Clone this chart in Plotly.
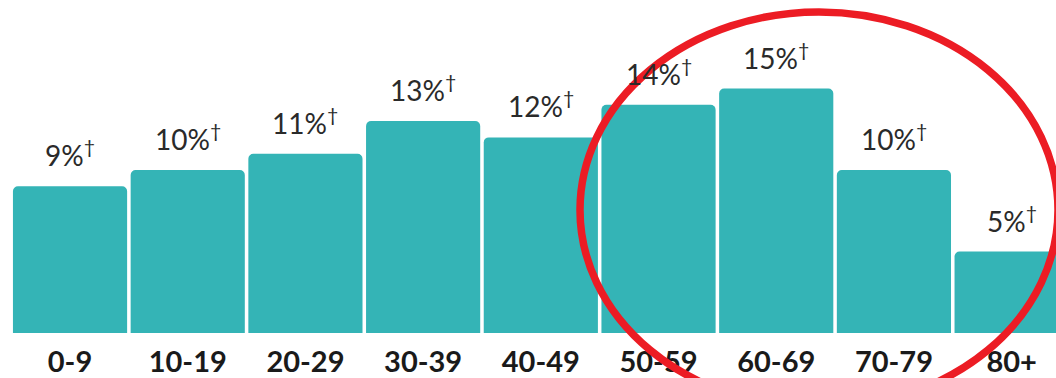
import plotly.graph_objects as go

# Age bands and their share of cases (%)
age_groups = ["0-9", "10-19", "20-29", "30-39", "40-49", "50-59", "60-69", "70-79", "80+"]
shares = [9, 10, 11, 13, 12, 14, 15, 10, 5]
share_labels = [f"{v}%<sup>†</sup>" for v in shares]

BAR_COLOR = "#34B4B6"
TEXT_COLOR = "#2a2a2a"

fig = go.Figure(
    go.Bar(
        x=age_groups,
        y=shares,
        marker=dict(color=BAR_COLOR, cornerradius=5, line=dict(width=0)),
        hoverinfo="skip",
    )
)

# Value labels sitting above each bar
for cat, val, lab in zip(age_groups, shares, share_labels):
    fig.add_annotation(
        x=cat, y=val, text=lab, showarrow=False,
        xref="x", yref="y", yanchor="bottom", yshift=12,
        font=dict(family="Lato", size=28, color=TEXT_COLOR),
    )

# Red highlight ring around the older age bands
fig.add_shape(
    type="circle", xref="paper", yref="paper",
    x0=580 / 1056, x1=1058 / 1056,
    y0=(333 - 408) / 333, y1=(333 - 12) / 333,
    line=dict(color="#EC1C24", width=7.5),
    layer="above",
)

fig.update_layout(
    width=1056, height=378,
    margin=dict(l=0, r=0, t=0, b=45),
    paper_bgcolor="white", plot_bgcolor="white",
    bargap=0.03,
    showlegend=False,
    xaxis=dict(
        range=[-0.595, 8.377],
        showgrid=False, zeroline=False, showline=False, ticks="",
        ticklabelstandoff=9,
        tickfont=dict(family="Lato", size=29, color="#1a1a1a", weight="bold"),
    ),
    yaxis=dict(
        range=[0, 333 / 16.3],
        visible=False, showgrid=False, zeroline=False,
    ),
)

fig.write_html("out.html")
